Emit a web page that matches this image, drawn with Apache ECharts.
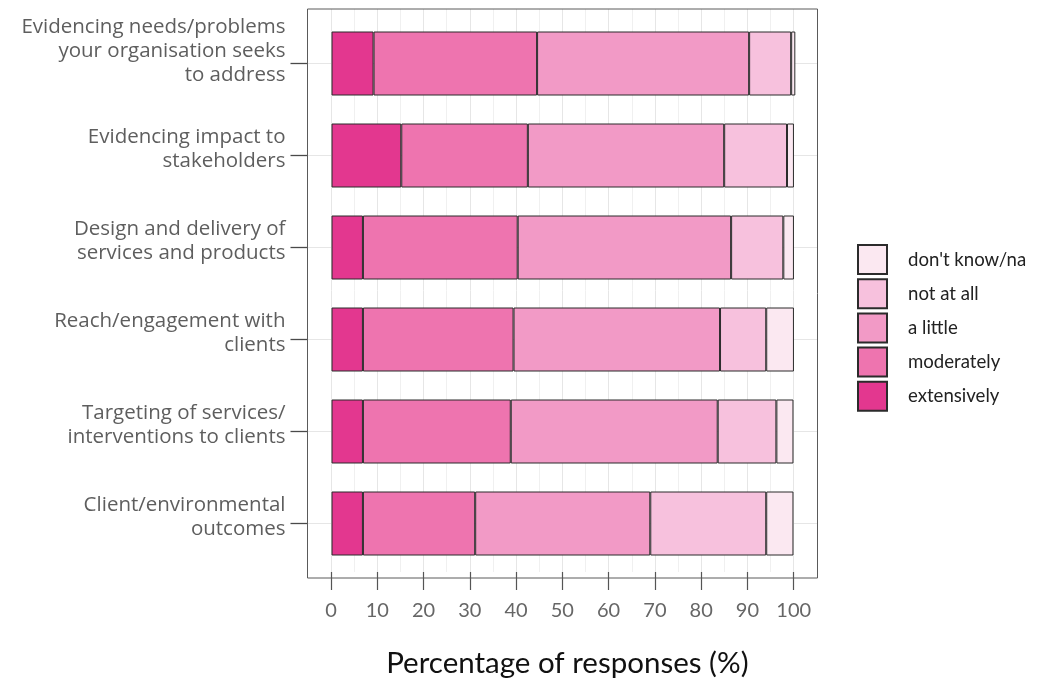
<!DOCTYPE html>
<html><head><meta charset="utf-8">
<script src="https://cdn.jsdelivr.net/npm/echarts@6/dist/echarts.min.js"></script>
<style>html,body{margin:0;padding:0;background:#fff}#c{width:1043px;height:683px}</style>
</head><body><div id="c"></div>
<script>
const categories = [
  'Evidencing needs/problems\nyour organisation seeks\nto address',
  'Evidencing impact to\nstakeholders',
  'Design and delivery of\nservices and products',
  'Reach/engagement with\nclients',
  'Targeting of services/\ninterventions to clients',
  'Client/environmental\noutcomes'
];
const extensively = [9.1, 15.1, 6.8, 6.8, 6.8, 6.8];
const moderately  = [35.4, 27.4, 33.5, 32.6, 32.0, 24.3];
const aLittle     = [45.9, 42.5, 46.2, 44.7, 44.8, 37.9];
const notAtAll    = [9.1, 13.6, 11.3, 10.0, 12.7, 25.1];
const dontKnow    = [0.9, 1.5, 2.3, 6.0, 3.7, 5.9];
const xTicks = [0, 10, 20, 30, 40, 50, 60, 70, 80, 90, 100];
const legendOrder = ["don't know/na", 'not at all', 'a little', 'moderately', 'extensively'];

const colors = {
  'extensively': '#E3378F',
  'moderately': '#EE74AF',
  'a little': '#F29AC6',
  'not at all': '#F7C1DD',
  "don't know/na": '#FBE8F1'
};
const seriesDefs = [
  ['extensively', extensively],
  ['moderately', moderately],
  ['a little', aLittle],
  ['not at all', notAtAll],
  ["don't know/na", dontKnow]
];

const chart = echarts.init(document.getElementById('c'), null, {renderer: 'canvas'});
const FONT = 'Lato';
chart.setOption({
  animation: false,
  backgroundColor: '#fff',
  grid: [
    {left: 307.5, right: 225.5, top: 63.5, bottom: 159.5, show: false},
    {left: 331, right: 249.3, top: 9, bottom: 105, show: false},
    {left: 307.5, right: 225.5, top: 9, bottom: 105, show: true, borderColor: '#5a5a5a', borderWidth: 1, backgroundColor: 'transparent', z: 3}
  ],
  legend: {
    orient: 'vertical', left: 857, top: 244, padding: 0,
    itemWidth: 29, itemHeight: 29, itemGap: 3.2,
    icon: 'rect',
    data: legendOrder,
    textStyle: {fontFamily: FONT, fontSize: 18.6, color: '#222', padding: [0, 0, 0, 16]}
  },
  xAxis: [
    {gridIndex: 0, type: 'value', min: -5.2, max: 105.2, show: false},
    {gridIndex: 1, type: 'value', min: 0, max: 100, interval: 10,
      axisLine: {show: false},
      axisTick: {show: true, length: 18, lineStyle: {color: '#555', width: 1.2}},
      axisLabel: {fontFamily: FONT, fontSize: 20, color: '#666', margin: 29,
        formatter: v => xTicks.includes(v) ? String(v) : ''},
      splitLine: {show: true, lineStyle: {color: '#e6e6e6', width: 1}},
      minorTick: {show: false, splitNumber: 2},
      minorSplitLine: {show: true, lineStyle: {color: '#f0f0f0', width: 1}},
      name: 'Percentage of responses (%)', nameLocation: 'middle', nameGap: 76,
      nameTextStyle: {fontFamily: FONT, fontSize: 29.5, color: '#111', padding: [0, 0, 0, 10]}
    },
    {gridIndex: 2, type: 'value', show: false}
  ],
  yAxis: [
    {gridIndex: 0, type: 'category', data: categories, inverse: true, boundaryGap: false,
      position: 'left',
      axisLine: {show: true, onZero: false, lineStyle: {color: '#5a5a5a', width: 1}},
      axisTick: {show: true, inside: false, alignWithLabel: true, interval: 0, length: 17, lineStyle: {color: '#4a4a4a', width: 1.3}},
      splitLine: {show: true, lineStyle: {color: '#e6e6e6', width: 1}},
      axisLabel: {
        margin: 22,
        formatter: v => {
          const lines = v.split('\n');
          return lines.map(l => '{t|' + l + '}').join('\n') + '\n{p' + lines.length + '|}';
        },
        rich: {
          t: {fontFamily: 'Open Sans', fontSize: 20.5, color: '#5e5e5e', lineHeight: 24, align: 'right'},
          p1: {lineHeight: 0, height: 0, fontSize: 1},
          p2: {lineHeight: 12, height: 12, fontSize: 1},
          p3: {lineHeight: 24, height: 24, fontSize: 1}
        }
      }
    },
    {gridIndex: 1, type: 'value', show: false},
    {gridIndex: 2, type: 'value', show: false}
  ],
  series: seriesDefs.map(([name, vals]) => ({
    name: name, type: 'bar', stack: 'total',
    xAxisIndex: 0, yAxisIndex: 0,
    data: vals, barWidth: 64, clip: false,
    itemStyle: {color: colors[name], borderColor: '#2b2b2b', borderWidth: 1},
    emphasis: {disabled: true}
  }))
});
</script></body></html>
